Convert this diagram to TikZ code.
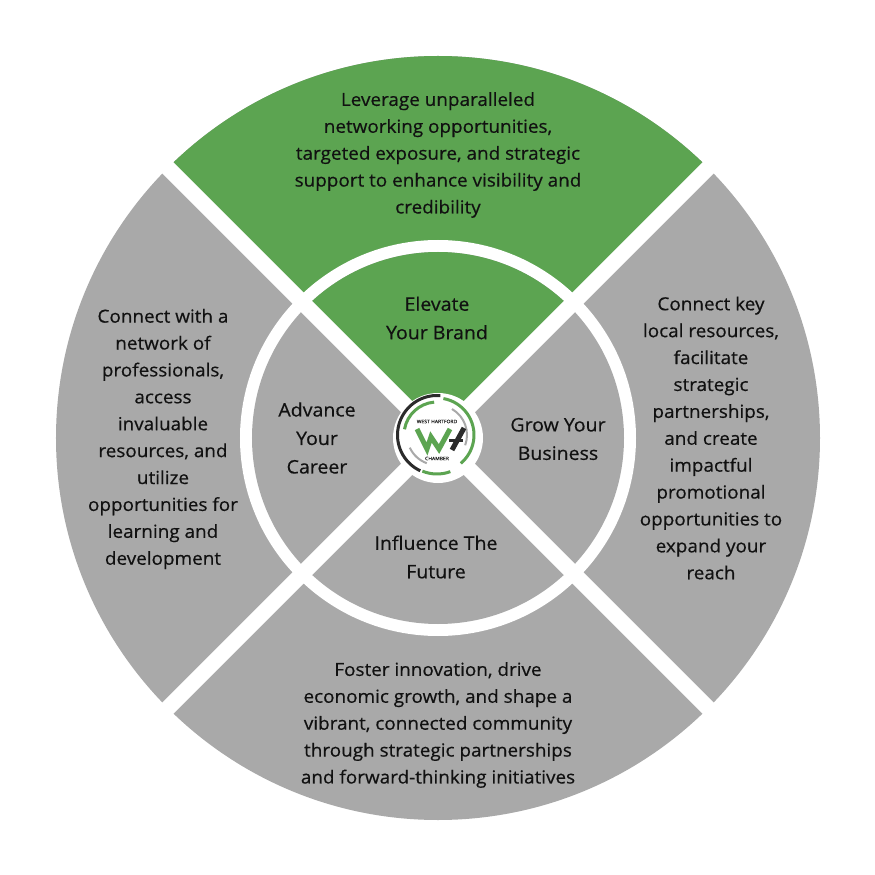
\documentclass[tikz,border=0pt]{standalone}
\usepackage{fontspec}
\setmainfont{Open Sans}[FakeBold=0.5,FakeStretch=1.05]
\usetikzlibrary{calc}
\definecolor{wedgegreen}{HTML}{5CA451}
\definecolor{wedgegrey}{HTML}{A9A9A9}
\definecolor{inktext}{HTML}{111111}
\definecolor{logodark}{HTML}{2B2B2B}
\tikzset{
  blurb/.style={text=inktext,align=center,font=\fontsize{18}{26.9}\selectfont},
  title/.style={text=inktext,align=center,font=\fontsize{18.6}{28.5}\selectfont},
  band/.style={draw=white,line width=15.6pt},
  logoarc/.style={line width=3pt},
  logostroke/.style={line width=5pt,miter limit=3},
  logotext/.style={text=logodark,font=\fontsize{4.8}{5}\selectfont}
}
\begin{document}
\begin{tikzpicture}[x=1pt,y=1pt]
  % Constants
  \pgfmathsetmacro\R{382}
  \pgfmathsetmacro\r{198}
  \pgfmathsetmacro\s{186}
  \pgfmathsetmacro\c{45}
  % Boundary
  \path[use as bounding box] (-438,-437) rectangle (437,438);
  % Outer wheel
  \fill[wedgegrey] (0,0) circle (\R);
  \fill[wedgegreen] (0,0) -- (45:\R) arc (45:135:\R) -- cycle;
  % White ring and inner wheel
  \fill[white] (0,0) circle (\r);
  \fill[wedgegrey] (0,0) circle (\s);
  \fill[wedgegreen] (0,0) -- (45:\s) arc (45:135:\s) -- cycle;
  % Bands
  \draw[band] (45:\R+10) -- (225:\R+10);
  \draw[band] (135:\R+10) -- (315:\R+10);
  \fill[white] (0,0) circle (\c);
  % Logo
  \begin{scope}[shift={(-1,3)}]
    \draw[logoarc,logodark] (85:39.5) arc (85:245:39.5);
    \draw[logoarc,wedgegreen] (80:37) arc (80:-50:37);
    \draw[logoarc,wedgegreen] (-70:39) arc (-70:-112:39);
    \draw[logoarc,wedgegreen] (170:33) arc (170:95:33);
    \draw[line width=2pt,wedgegrey] (60:30) arc (60:-20:30);
    \draw[line width=2pt,wedgegrey] (205:30) arc (205:250:30);
    \draw[logostroke,wedgegreen] (-20,6) -- (-10,-14) -- (-6,-2) -- (2,-14) -- (13,6);
    \draw[logostroke,logodark] (15,-15) -- (27,7);
    \draw[line width=3pt,logodark] (12,-6) -- (26,-6);
    \node[logotext] (logotop) at (0,13.5) {WEST HARTFORD};
    \node[logotext] (logobottom) at (0,-23.5) {CHAMBER};
  \end{scope}
  % Outer texts
  \node[blurb] (brandtext) at (0,283) {Leverage unparalleled\\networking opportunities,\\targeted exposure, and strategic\\support to enhance visibility and\\credibility};
  \node[blurb] (careertext) at (-275,-1) {Connect with a\\network of\\professionals,\\access\\invaluable\\resources, and\\utilize\\opportunities for\\learning and\\development};
  \node[blurb] (businesstext) at (273,0) {Connect key\\local resources,\\facilitate\\strategic\\partnerships,\\and create\\impactful\\promotional\\opportunities to\\expand your\\reach};
  \node[blurb] (futuretext) at (0,-287) {Foster innovation, drive\\economic growth, and shape a\\vibrant, connected community\\through strategic partnerships\\and forward-thinking initiatives};
  % Inner titles
  \node[title] (brand) at (-1,120) {Elevate\\Your Brand};
  \node[title] (career) at (-121,0) {Advance\\Your\\Career};
  \node[title] (business) at (120,-1) {Grow Your\\Business};
  \node[title] (future) at (-2,-119) {Influence The\\Future};
\end{tikzpicture}
\end{document}
